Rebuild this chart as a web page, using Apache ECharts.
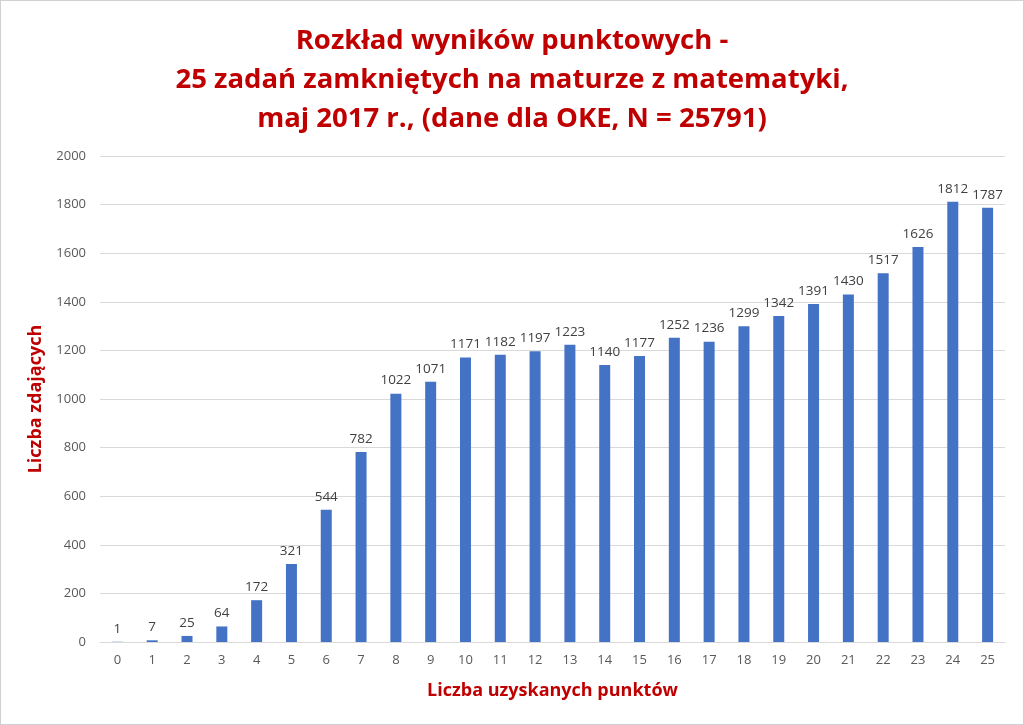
<!DOCTYPE html>
<html lang="pl">
<head>
    <meta charset="UTF-8">
    <title>Rozkład wyników punktowych</title>
    <style>
        html, body { margin: 0; padding: 0; background: #fff; }
        #main { width: 1022px; height: 723px; border: 1px solid #d0d0d0; }
    </style>
</head>
<body>
<div id="main"></div>
<script src="https://cdn.jsdelivr.net/npm/echarts@6/dist/echarts.min.js"></script>
<script>
    // punkty 0..25
    var points = ['0','1','2','3','4','5','6','7','8','9','10','11','12','13','14','15','16','17','18','19','20','21','22','23','24','25'];
    // liczba zdających
    var counts = [1, 7, 25, 64, 172, 321, 544, 782, 1022, 1071, 1171, 1182, 1197, 1223, 1140, 1177, 1252, 1236, 1299, 1342, 1391, 1430, 1517, 1626, 1812, 1787];

    var titleLines = [
        'Rozkład wyników punktowych -',
        '25 zadań zamkniętych na maturze z matematyki,',
        'maj 2017 r., (dane dla OKE, N = 25791)'
    ];

    var red = '#c00000';
    var font = '"Open Sans", "Noto Sans", sans-serif';

    var myChart = echarts.init(document.getElementById('main'));

    var option = {
        animation: false,
        title: {
            text: titleLines.join('\n'),
            left: 'center',
            top: 16,
            textStyle: {
                color: red,
                fontFamily: font,
                fontWeight: 'bold',
                fontSize: 27.5,
                lineHeight: 39
            }
        },
        grid: {
            left: 99,
            right: 18,
            top: 155,
            bottom: 82,
            containLabel: false
        },
        xAxis: {
            type: 'category',
            data: points,
            name: 'Liczba uzyskanych punktów',
            nameLocation: 'middle',
            nameGap: 40,
            nameTextStyle: {
                color: red,
                fontFamily: font,
                fontWeight: 'bold',
                fontSize: 18
            },
            axisLine: { lineStyle: { color: '#d9d9d9' } },
            axisTick: { show: false },
            axisLabel: {
                color: '#595959',
                fontFamily: font,
                fontSize: 13,
                margin: 12
            }
        },
        yAxis: {
            type: 'value',
            min: 0,
            max: 2000,
            interval: 200,
            name: 'Liczba zdających',
            nameLocation: 'middle',
            nameGap: 52,
            nameTextStyle: {
                color: red,
                fontFamily: font,
                fontWeight: 'bold',
                fontSize: 18
            },
            axisLine: { show: false },
            axisTick: { show: false },
            axisLabel: {
                color: '#595959',
                fontFamily: font,
                fontSize: 13,
                margin: 14,
                formatter: function (v) { return String(v); }
            },
            splitLine: { lineStyle: { color: '#d9d9d9' } }
        },
        series: [
            {
                type: 'bar',
                data: counts,
                barWidth: 11,
                itemStyle: { color: '#4472c4' },
                label: {
                    show: true,
                    position: 'top',
                    distance: 6,
                    color: '#404040',
                    fontFamily: font,
                    fontSize: 13.5
                }
            }
        ]
    };

    myChart.setOption(option);
</script>
</body>
</html>
